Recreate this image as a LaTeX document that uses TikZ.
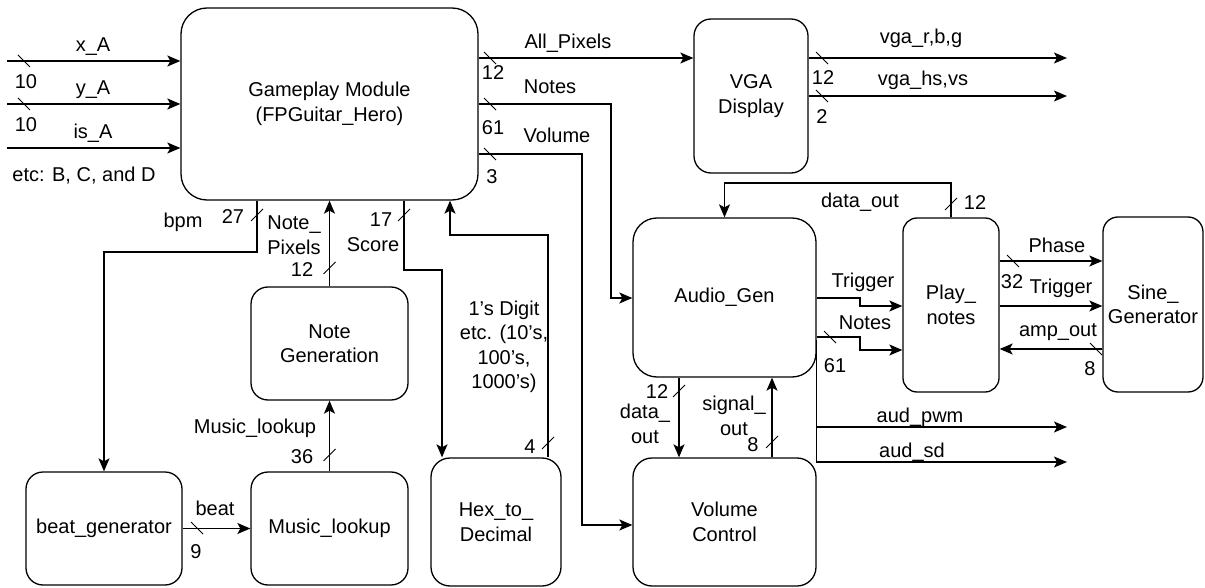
\documentclass[tikz,border=0pt]{standalone}
\usepackage{fontspec}
\setmainfont{Liberation Sans}
\usetikzlibrary{arrows.meta,calc}
\begin{document}
\begin{tikzpicture}[x=1pt,y=-1pt,
  font=\fontsize{20}{24.5}\selectfont,
  line width=1.3pt,
  blk/.style={draw, rounded corners=#1, align=center, inner sep=0pt},
  wire/.style={-{Stealth[length=13pt,width=11pt,inset=3pt]}, line width=1.3pt},
  lbl/.style={inner sep=0pt, align=center},
  bs/.pic={\draw[line width=0.9pt] (-6,-6) -- (6,6);},
  fs/.pic={\draw[line width=0.9pt] (-6,6) -- (6,-6);},
]
\useasboundingbox (0,0) rectangle (1205,588);

% blocks
\node[blk=26, minimum width=297, minimum height=192] (game) at (329.5,104) {Gameplay Module\\(FPGuitar\_Hero)};
\node[blk=17, minimum width=114, minimum height=154] (vga) at (751,96) {VGA\\Display};
\node[blk=24, minimum width=183, minimum height=159] (audio) at (724.5,297.5) {Audio\_Gen};
\node[blk=19, minimum width=183, minimum height=128] (vol) at (724.5,522) {Volume\\Control};
\node[blk=19, minimum width=130, minimum height=128] (hex) at (496,522) {Hex\_to\_\\Decimal};
\node[blk=17, minimum width=157, minimum height=113] (mlook) at (329.5,528.5) {Music\_lookup};
\node[blk=17, minimum width=156, minimum height=113] (bgen) at (104,528.5) {beat\_generator};
\node[blk=17, minimum width=157, minimum height=113] (notegen) at (329.5,343.5) {Note\\Generation};
\node[blk=14, minimum width=96, minimum height=174] (play) at (951,305) {Play\_\\notes};
\node[blk=15, minimum width=100, minimum height=175] (sine) at (1153,304.5) {Sine\_\\Generator};

% free ends
\coordinate (inX) at (7,61);
\coordinate (inY) at (7,104);
\coordinate (inI) at (7,148);
\coordinate (vr) at (1067,58);
\coordinate (vh) at (1067,96);
\coordinate (apwm) at (1067,427);
\coordinate (asd) at (1067,462);

% inputs
\draw[wire] (inX) -- (inX -| game.west);
\draw[wire] (inY) -- (inY -| game.west);
\draw[wire] (inI) -- (inI -| game.west);

% gameplay outputs
\draw[wire] (game.east |- vr) -- (vga.west |- vr);
\draw[wire] (game.east |- 0,104) -| (611,298) -- (audio.west |- 0,298);
\draw[wire] (game.east |- 0,154) -| (582,525) -- (vol.west |- 0,525);

% vga outputs
\draw[wire] (vga.east |- vr) -- (vr);
\draw[wire] (vga.east |- vh) -- (vh);

% audio / play notes
\draw[wire] (play.north) |- (audio.north |- 0,183) -- (audio.north);
\draw[wire] (audio.east |- 0,298) -| (860,306) -- (play.west |- 0,306);
\draw[wire] (audio.east |- 0,337) -| (860,350) -- (play.west |- 0,350);
\draw[wire] (audio.east |- 0,340) |- (apwm);
\draw[wire] (audio.east |- 0,340) |- (asd);
\draw[wire] (play.east |- 0,261) -- (sine.west |- 0,261);
\draw[wire] (play.east |- 0,306) -- (sine.west |- 0,306);
\draw[wire] (sine.west |- 0,349) -- (play.east |- 0,349);

% bottom of gameplay
\draw[wire] (game.south -| 257,0) |- (104,252) -- (bgen.north);
\draw[wire] (notegen.north) -- (game.south -| notegen.north);
\draw[wire] (game.south -| 404,0) |- (442,270) -- (hex.north -| 442,0);
\draw[wire] (hex.north -| 548,0) |- (450,235) -- (game.south -| 450,0);
\draw[wire] (mlook.north) -- (notegen.south);
\draw[wire] (bgen.east) -- (mlook.west);
\draw[wire] (audio.south -| 679,0) -- (vol.north -| 679,0);
\draw[wire] (vol.north -| 772,0) -- (audio.south -| 772,0);

% bus slashes
\pic at (24,61) {bs};
\pic at (24,104) {bs};
\pic at (490,58) {bs};
\pic at (490,104) {bs};
\pic at (490,154) {bs};
\pic at (822,58) {bs};
\pic at (822,96) {bs};
\pic at (830,337) {bs};
\pic at (1013,261) {bs};
\pic at (1096,349) {bs};
\pic at (197,528) {bs};
\pic at (951,204) {fs};
\pic at (257,215) {fs};
\pic at (329.5,268) {fs};
\pic at (404,215) {fs};
\pic at (329.5,455) {fs};
\pic at (548,443) {fs};
\pic at (679,391) {fs};
\pic at (772,442) {fs};

% labels
\node[lbl] at (93,47) {x\_A};
\node[lbl] at (93,90) {y\_A};
\node[lbl] at (93,133) {is\_A};
\node[lbl] at (26,82) {10};
\node[lbl] at (26,125) {10};
\node[lbl] at (84,176) {etc: B, C, and D};
\node[lbl] at (568,43) {All\_Pixels};
\node[lbl] at (493,73) {12};
\node[lbl] at (550,87) {Notes};
\node[lbl] at (493,128) {61};
\node[lbl] at (557,135) {Volume};
\node[lbl] at (492,177) {3};
\node[lbl] at (921,38) {vga\_r,b,g};
\node[lbl] at (823,78) {12};
\node[lbl] at (923,80) {vga\_hs,vs};
\node[lbl] at (822,117) {2};
\node[lbl] at (860,202) {data\_out};
\node[lbl] at (975,203) {12};
\node[lbl] at (863,282) {Trigger};
\node[lbl] at (865,323) {Notes};
\node[lbl] at (835,366) {61};
\node[lbl] at (1057,245) {Phase};
\node[lbl] at (1012,282) {32};
\node[lbl] at (1061,288) {Trigger};
\node[lbl] at (1058,332) {amp\_out};
\node[lbl] at (1090,369) {8};
\node[lbl] at (920,417) {aud\_pwm};
\node[lbl] at (912,452) {aud\_sd};
\node[lbl] at (183,222) {bpm};
\node[lbl] at (233,217) {27};
\node[lbl] at (294,235) {Note\_\\Pixels};
\node[lbl] at (302,270) {12};
\node[lbl] at (381,220) {17};
\node[lbl] at (373,245) {Score};
\node[lbl] at (255,428) {Music\_lookup};
\node[lbl] at (302,457) {36};
\node[lbl] at (215,508) {beat};
\node[lbl] at (196,552) {9};
\node[lbl] at (504,347) {1's Digit\\etc. (10's,\\100's,\\1000's)};
\node[lbl] at (530,447) {4};
\node[lbl] at (657,392) {12};
\node[lbl] at (645,424) {data\_\\out};
\node[lbl] at (734,416) {signal\_\\out};
\node[lbl] at (753,445) {8};
\end{tikzpicture}
\end{document}
